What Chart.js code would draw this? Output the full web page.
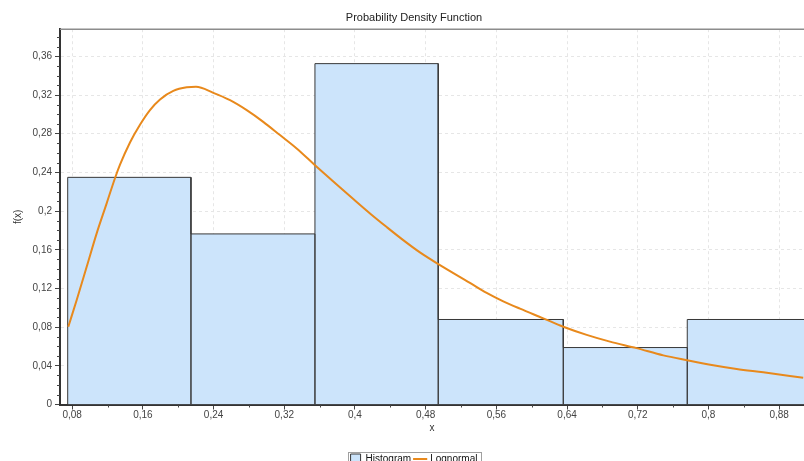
<!DOCTYPE html>
<html>
<head>
<meta charset="utf-8">
<script src="https://cdn.jsdelivr.net/npm/chart.js@4.4.1/dist/chart.umd.min.js"></script>
<style>
  html,body{margin:0;padding:0;background:#fff;}
  canvas{display:block;}
</style>
</head>
<body>
<canvas id="pdf" width="804" height="461"></canvas>
<script>
// histogram: bin edges and density of each bin
const binEdges   = [0.0749, 0.2144, 0.3547, 0.4942, 0.6357, 0.7760, 0.9163];
const binDensity = [0.2349, 0.1764, 0.3525, 0.0879, 0.0589, 0.0879];

// lognormal fit
const curveX = [0.0756,0.0851,0.0964,0.1077,0.1190,0.1284,0.1341,0.1454,0.1567,0.1680,0.1794,0.1944,0.2096,0.2201,
                0.2397,0.2586,0.2775,0.2962,0.3151,0.3340,0.3547,0.3793,0.3981,0.4170,0.4359,0.4546,0.4735,0.4943,
                0.5301,0.5490,0.5678,0.5867,0.6131,0.6357,0.6622,0.6885,0.7187,0.7489,0.7760,0.8054,0.8319,
                0.8620,0.9072];
const curveY = [0.0804,0.1080,0.1424,0.1770,0.2080,0.2340,0.2480,0.2710,0.2893,0.3045,0.3155,0.3243,0.3280,0.3285,
                0.3223,0.3147,0.3044,0.2923,0.2786,0.2648,0.2475,0.2275,0.2125,0.1976,0.1835,0.1700,0.1573,0.1452,
                0.1258,0.1154,0.1067,0.0991,0.0891,0.0804,0.0720,0.0650,0.0583,0.0508,0.0458,0.0407,0.0368,
                0.0333,0.0277];

const xTicks = [0.08,0.16,0.24,0.32,0.4,0.48,0.56,0.64,0.72,0.8,0.88];
const yTicks = [0,0.04,0.08,0.12,0.16,0.2,0.24,0.28,0.32,0.36];

const X_MIN = 0.0662, X_MAX = 0.9081, Y_MAX = 0.3881;
const FONT = 'Liberation Sans, Arial, sans-serif';

const fmt = v => String(Math.round(v*100)/100).replace('.', ',');

// outline of every bin: up the left side, across the top, back down
const histPts = [];
binDensity.forEach((h,i)=>{
  histPts.push({x:binEdges[i], y:0}, {x:binEdges[i], y:h}, {x:binEdges[i+1], y:h}, {x:binEdges[i+1], y:0});
});

// minor ticks, plot top border, legend frame
const decor = {
  id: 'decor',
  afterDraw(chart){
    const {ctx, chartArea:a, scales:{x, y}} = chart;
    ctx.save();
    ctx.strokeStyle = '#444';
    ctx.lineWidth = 1;
    ctx.beginPath();
    for (let i=0; i<xTicks.length; i++){
      const v = xTicks[i] + 0.04;
      if (v > X_MAX) break;
      const px = Math.round(x.getPixelForValue(v)) + 0.5;
      ctx.moveTo(px, a.bottom); ctx.lineTo(px, a.bottom + 3);
    }
    for (let i=0; i<yTicks.length; i++){
      for (let k=1; k<4; k++){
        const v = yTicks[i] + k*0.01;
        if (v > Y_MAX) break;
        const py = Math.round(y.getPixelForValue(v)) + 0.5;
        ctx.moveTo(a.left - 3, py); ctx.lineTo(a.left, py);
      }
    }
    ctx.stroke();

    ctx.strokeStyle = '#8c8c8c';
    ctx.lineWidth = 1.5;
    ctx.beginPath();
    ctx.moveTo(a.left, a.top); ctx.lineTo(a.right, a.top);
    ctx.stroke();

    const hb = chart.legend.legendHitBoxes;
    if (hb && hb.length){
      const l = Math.min(...hb.map(h=>h.left)) - 3;
      const r = Math.max(...hb.map(h=>h.left + h.width)) + 3;
      const t = Math.min(...hb.map(h=>h.top)) - 2;
      const b = Math.max(...hb.map(h=>h.top + h.height)) + 2;
      ctx.strokeStyle = '#a0a0a0';
      ctx.lineWidth = 1;
      ctx.strokeRect(Math.round(l)+0.5, Math.round(t)+0.5, Math.round(r-l), Math.round(b-t));
    }
    ctx.restore();
  }
};

new Chart(document.getElementById('pdf'), {
  type: 'line',
  data: {
    datasets: [
      {
        label: 'Histogram',
        data: histPts,
        backgroundColor: '#cce4fb',
        borderColor: '#383838',
        borderWidth: 1,
        fill: 'origin',
        tension: 0,
        pointRadius: 0,
        pointStyle: 'rect',
        order: 1
      },
      {
        label: 'Lognormal',
        data: curveX.map((v,i)=>({x:v, y:curveY[i]})),
        borderColor: '#e8891c',
        backgroundColor: '#e8891c',
        borderWidth: 2,
        pointRadius: 0,
        pointStyle: 'line',
        cubicInterpolationMode: 'monotone',
        fill: false,
        order: 0
      }
    ]
  },
  options: {
    responsive: false,
    animation: false,
    layout: { padding: { left: 0, right: -24, top: 0, bottom: -13 } },
    plugins: {
      title: {
        display: true,
        text: 'Probability Density Function',
        color: '#222',
        font: { family: FONT, size: 11, weight: 'normal' },
        padding: { top: 11, bottom: 5 }
      },
      legend: {
        position: 'bottom',
        labels: {
          usePointStyle: true,
          boxWidth: 10,
          boxHeight: 10,
          padding: 4,
          color: '#111',
          font: { family: FONT, size: 10 },
          sort: (a,b)=>a.datasetIndex - b.datasetIndex
        }
      },
      tooltip: { enabled: false }
    },
    scales: {
      x: {
        type: 'linear',
        position: 'bottom',
        min: X_MIN, max: X_MAX,
        afterBuildTicks: s => { s.ticks = xTicks.map(v=>({value:v})); },
        afterFit: s => { s.height = 45.5; },
        ticks: { callback: v => fmt(v), color: '#444', font: { family: FONT, size: 10 }, padding: 0, maxRotation: 0, autoSkip: false },
        grid: { color: '#e6e6e6', tickColor: '#444', tickLength: 5 },
        border: { color: '#333', width: 2, dash: [3,3] },
        title: { display: true, text: 'x', color: '#333', font: { family: FONT, size: 10 }, padding: { top: 0, bottom: 16 } }
      },
      y: {
        type: 'linear',
        min: 0, max: Y_MAX,
        afterBuildTicks: s => { s.ticks = yTicks.map(v=>({value:v})); },
        afterFit: s => { s.width = 60; },
        ticks: { callback: v => fmt(v), color: '#444', font: { family: FONT, size: 10 }, padding: 3 },
        grid: { color: '#e6e6e6', tickColor: '#444', tickLength: 5 },
        border: { color: '#333', width: 2, dash: [3,3] },
        title: { display: true, text: 'f(x)', color: '#333', font: { family: FONT, size: 10 }, padding: { top: 12, bottom: 0 } }
      }
    }
  },
  plugins: [decor]
});
</script>
</body>
</html>
